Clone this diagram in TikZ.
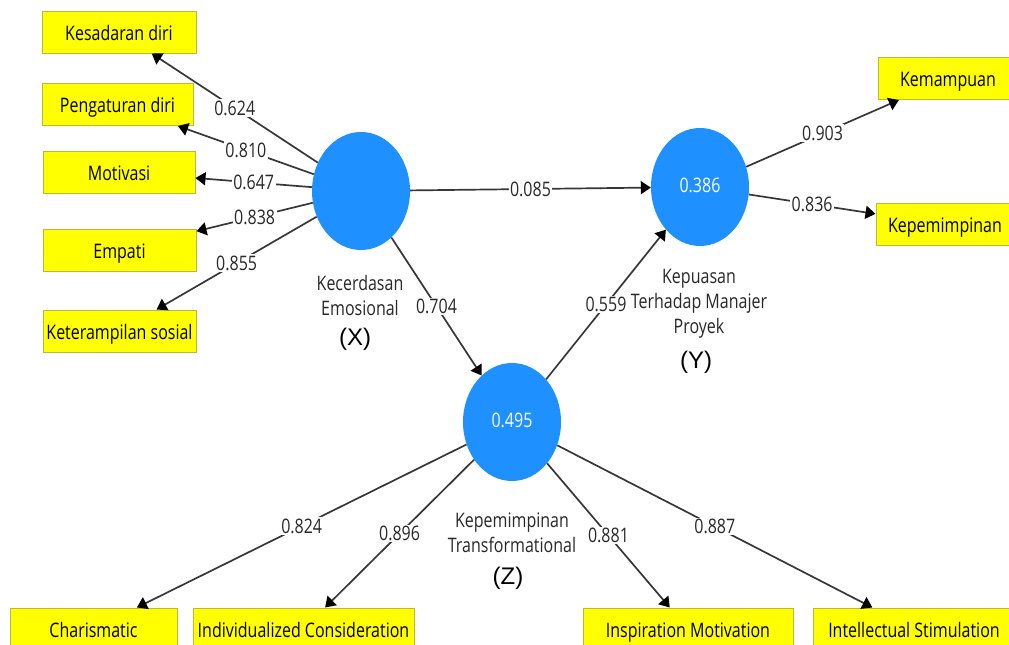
\documentclass[tikz,border=0pt]{standalone}
\usepackage{fontspec}
\usepackage{graphicx}
\setmainfont{Open Sans}
\newfontfamily\tagfont{Liberation Sans}
\usetikzlibrary{arrows.meta,shapes.geometric}

\definecolor{lvblue}{RGB}{30,144,255}
\definecolor{indfill}{RGB}{255,255,0}
\definecolor{indedge}{RGB}{185,185,60}
\definecolor{linkgray}{RGB}{55,55,55}
\definecolor{txtgray}{RGB}{40,40,40}

% narrow sans text, as set by the modelling tool
\newcommand{\nw}[1]{\scalebox{0.8}[1]{#1}}
% R-squared value, set a little above the centre of the latent variable
\newcommand{\rsq}[1]{\raisebox{4pt}{\nw{#1}}}

\tikzset{
  every node/.style={font=\fontsize{20}{25}\selectfont},
  latent/.style={ellipse, fill=lvblue, minimum width=98pt, minimum height=118pt,
                 inner sep=0pt, text=white},
  indicator/.style={rectangle, fill=indfill, draw=indedge, line width=1pt,
                    minimum height=42pt, inner sep=0pt, text=black,
                    text height=18pt, text depth=2pt},
  link/.style={draw=linkgray, line width=1.7pt,
               -{Triangle[length=10pt,width=13pt,color=black]}},
  wlabel/.style={fill=white, inner sep=1.5pt, text=txtgray},
  caption/.style={text=txtgray, align=center},
  tag/.style={font=\tagfont\fontsize{24}{28}\selectfont, text=black}
}

\begin{document}
\begin{tikzpicture}[x=1pt,y=-1pt]
  \path[use as bounding box] (0,0) rectangle (1009,645);
  \clip (0,0) rectangle (1009,645);
  \fill[white] (0,0) rectangle (1009,645);

  % latent variables
  \node[latent] (X) at (361,191) {};
  \node[latent] (Y) at (700,187) {\rsq{0.386}};
  \node[latent] (Z) at (512,422) {\rsq{0.495}};

  % indicators of X
  \node[indicator, minimum width=154pt] (kes) at (119,32)    {\nw{Kesadaran diri}};
  \node[indicator, minimum width=151pt] (pen) at (117.5,104.5) {\nw{Pengaturan diri}};
  \node[indicator, minimum width=152pt] (mot) at (119,172)   {\nw{Motivasi}};
  \node[indicator, minimum width=153pt] (emp) at (119.5,250) {\nw{Empati}};
  \node[indicator, minimum width=153pt] (ket) at (119.5,331) {\nw{Keterampilan sosial}};

  % indicators of Y
  \node[indicator, minimum width=140pt] (kem) at (948,78.5)  {\nw{Kemampuan}};
  \node[indicator, minimum width=138pt] (kpm) at (945,224.5) {\nw{Kepemimpinan}};

  % indicators of Z
  \node[indicator, minimum width=167pt] (cha) at (93.5,629)  {\nw{Charismatic}};
  \node[indicator, minimum width=221pt] (ind) at (303.5,629) {\nw{Individualized Consideration}};
  \node[indicator, minimum width=210pt] (ins) at (688,629)   {\nw{Inspiration Motivation}};
  \node[indicator, minimum width=202pt] (int) at (914,629)   {\nw{Intellectual Stimulation}};

  % captions
  \node[caption] (capX) at (360,295) {\nw{Kecerdasan}\\\nw{Emosional}};
  \node[tag] (tagX) at (355,339) {(X)};
  \node[caption] (capY) at (699,304) {\nw{Kepuasan}\\\nw{Terhadap Manajer}\\\nw{Proyek}};
  \node[tag] (tagY) at (696,362) {(Y)};
  \node[caption] (capZ) at (512,533) {\nw{Kepemimpinan}\\\nw{Transformational}};
  \node[tag] (tagZ) at (508,578) {(Z)};

  % outer loadings of X
  \draw[link] (X) -- node[wlabel] {\nw{0.624}} (kes);
  \draw[link] (X) -- node[wlabel] {\nw{0.810}} (pen);
  \draw[link] (X) -- node[wlabel] {\nw{0.647}} (mot);
  \draw[link] (X) -- node[wlabel] {\nw{0.838}} (emp);
  \draw[link] (X) -- node[wlabel] {\nw{0.855}} (ket);

  % structural paths
  \draw[link] (X) -- node[wlabel] {\nw{0.085}} (Y);
  \draw[link] (X) -- node[wlabel] {\nw{0.704}} (Z);
  \draw[link] (Z) -- node[wlabel] {\nw{0.559}} (Y);

  % outer loadings of Y
  \draw[link] (Y) -- node[wlabel] {\nw{0.903}} (kem);
  \draw[link] (Y) -- node[wlabel] {\nw{0.836}} (kpm);

  % outer loadings of Z
  \draw[link] (Z) -- node[wlabel] {\nw{0.824}} (cha);
  \draw[link] (Z) -- node[wlabel] {\nw{0.896}} (ind);
  \draw[link] (Z) -- node[wlabel] {\nw{0.881}} (ins);
  \draw[link] (Z) -- node[wlabel] {\nw{0.887}} (int);
\end{tikzpicture}
\end{document}
